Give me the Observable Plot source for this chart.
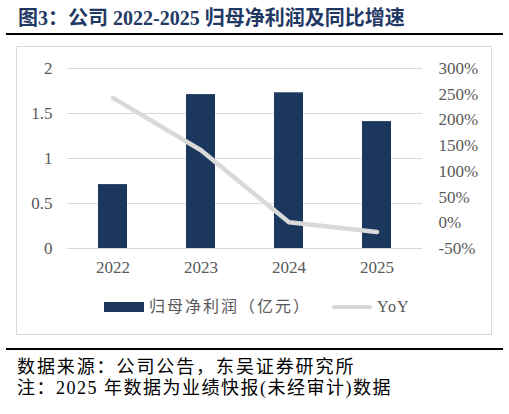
<!DOCTYPE html>
<html>
<head>
<meta charset="utf-8">
<script src="https://cdn.jsdelivr.net/npm/d3@7"></script>
<script src="https://cdn.jsdelivr.net/npm/@observablehq/plot@0.6"></script>
<style>
  body { margin: 0; background: #fff; width: 509px; height: 414px; position: relative; overflow: hidden;
         font-family: "Liberation Serif", "Noto Sans CJK SC", serif; }
  .abs { position: absolute; white-space: nowrap; }
  #title { left: 18px; top: 8px; font-size: 20px; line-height: 20px; font-weight: bold; color: #1f3864; }
  .rule { left: 6px; width: 497px; height: 2px; background: #000; }
  #box { left: 16px; top: 46px; width: 476px; height: 289px; border: 1px solid #d9d9d9; box-sizing: border-box; }
  #chart { left: 0; top: 46px; }
  .leg { font-size: 16px; line-height: 18px; color: #595959; top: 298px; letter-spacing: 2px; }
  .note { left: 17px; font-size: 18px; line-height: 20px; color: #000; letter-spacing: 1.5px; }
</style>
</head>
<body>
<div id="title" class="abs">图3：公司 2022-2025 归母净利润及同比增速</div>
<div class="abs rule" style="top:33px"></div>
<div id="box" class="abs"></div>
<div id="chart" class="abs"></div>
<div class="abs" style="left:104px;top:302px;width:40px;height:10px;background:#1c375e"></div>
<div id="leg1" class="abs leg" style="left:149px"></div>
<div class="abs" style="left:332px;top:305px;width:40px;height:4px;border-radius:2px;background:#d9d9d9"></div>
<div id="leg2" class="abs leg" style="left:377px;letter-spacing:1px"></div>
<div class="abs rule" style="top:348px"></div>
<div class="abs note" style="top:357px;letter-spacing:1.9px">数据来源：公司公告，东吴证券研究所</div>
<div class="abs note" style="top:378px">注：2025 年数据为业绩快报(未经审计)数据</div>
<script>
// 数据
const years = ["2022", "2023", "2024", "2025"];
const profit = [0.71, 1.71, 1.73, 1.41];      // 归母净利润（亿元）
const yoy = [243, 141, 1, -18];               // YoY %
const leftTicks = [0, 0.5, 1, 1.5, 2];
const rightTicks = [-50, 0, 50, 100, 150, 200, 250, 300];
const seriesNames = ["归母净利润（亿元）", "YoY"];

// 右轴 -50%..300% 对应左轴 0..2
const toLeft = v => (v + 50) / 175;

const rows = years.map((y, i) => ({year: y, profit: profit[i], yoy: toLeft(yoy[i])}));

let chart = Plot.plot({
  width: 509,
  height: 240,
  marginLeft: 67,
  marginRight: 87,
  marginTop: 22,
  marginBottom: 38,
  x: { domain: years, paddingInner: 0.67, paddingOuter: 0.335 },
  y: { domain: [0, 2] },
  style: { color: "#595959", fontFamily: "Liberation Serif, serif", fontSize: "17px", background: "transparent", overflow: "visible" },
  marks: [
    Plot.gridY(leftTicks, { stroke: "#d9d9d9", strokeOpacity: 1 }),
    Plot.barY(rows, { x: "year", y: "profit", fill: "#1c375e" }),
    Plot.line(rows, { x: "year", y: "yoy", stroke: "#d9d9d9", strokeWidth: 4.5, strokeLinecap: "round", strokeLinejoin: "round" }),
    Plot.axisY({ ticks: leftTicks, tickSize: 0, tickPadding: 15, tickFormat: d => String(d), label: null }),
    Plot.axisY({ anchor: "right", ticks: rightTicks.map(toLeft), tickSize: 0, tickPadding: 16,
                 tickFormat: d => Math.round(d * 175 - 50) + "%", label: null }),
    Plot.axisX({ tickSize: 0, tickPadding: 12, label: null })
  ]
});

d3.select("#chart").append(() => chart);
d3.select("#leg1").text(seriesNames[0]);
d3.select("#leg2").text(seriesNames[1]);
</script>
</body>
</html>
